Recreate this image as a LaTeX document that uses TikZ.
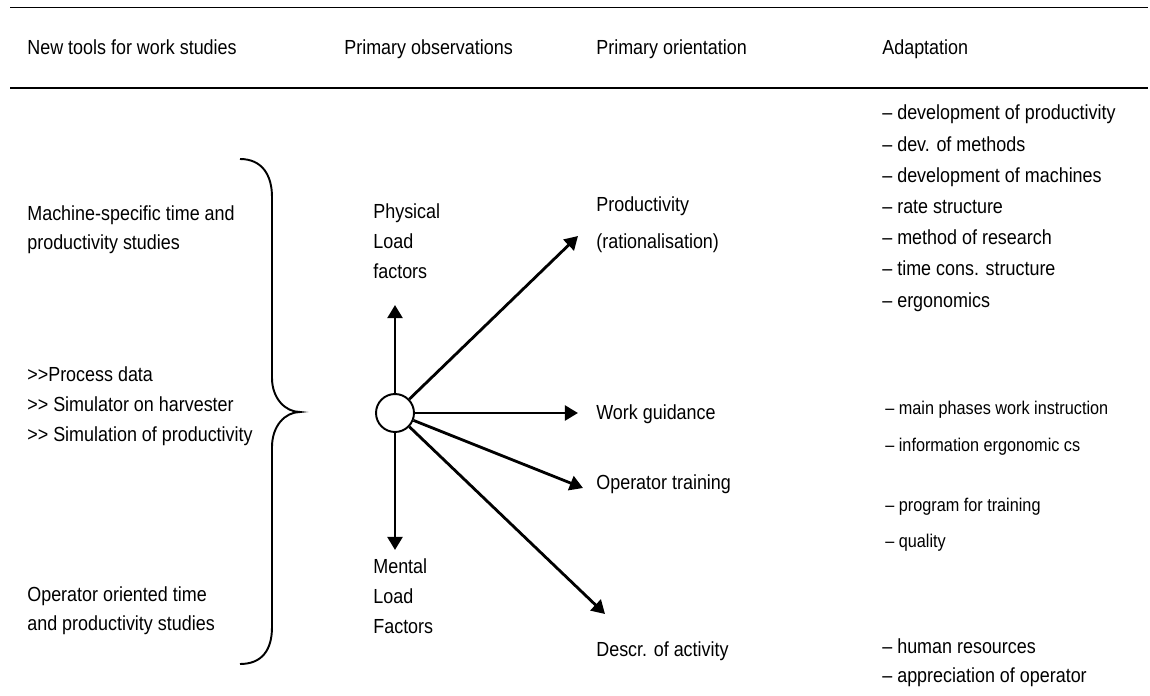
\documentclass[tikz,border=0pt]{standalone}
\usepackage{fontspec}
\setmainfont[FakeStretch=0.88]{Liberation Sans}
\usetikzlibrary{arrows.meta}
\tikzset{
  txt/.style={anchor=base west,inner sep=0pt,align=left,font=\fontsize{11.6}{17}\selectfont},
  small/.style={txt,font=\fontsize{10.5}{21}\selectfont},
  arr/.style={line width=1.6pt,-{Triangle[length=7.5pt,width=8.5pt]}},
}
% multi-line nodes: base is the last line
\newcommand{\gt}{>\kern0pt>}
\begin{document}
\begin{tikzpicture}[x=0.02cm,y=-0.02cm]
\useasboundingbox (0,0) rectangle (1150,696);
\draw[line width=0.6pt] (10,7.5) -- (1148,7.5);
\draw[line width=1.1pt] (10,88) -- (1148,88);

   \node[txt] at (27,55)  (h1) {New tools for work studies};
   \node[txt] at (344,55) (h2) {Primary observations};
   \node[txt] at (596,55) (h3) {Primary orientation};
   \node[txt] at (882,55) (h4) {Adaptation};

   \node[txt,font=\fontsize{11.6}{16.5}\selectfont] at (27,249) (machine) {Machine-specific time and\\productivity studies};
   \node[txt,font=\fontsize{11.6}{16.8}\selectfont] at (27,441) (tools) {\gt Process data\\\gt{} Simulator on harvester\\\gt{} Simulation of productivity};
   \node[txt,font=\fontsize{11.6}{16}\selectfont] at (27,630) (operator) {Operator oriented time\\and productivity studies};

   \node[txt] at (373,278) (physical) {Physical\\Load\\factors};
   \node[txt] at (373,633) (mental) {Mental\\Load\\Factors};

   \node[txt,font=\fontsize{11.6}{21}\selectfont] at (596,248) (prod) {Productivity\\(rationalisation)};
   \node[txt] at (596,419) (guide) {Work guidance};
   \node[txt] at (596,489) (train) {Operator training};
   \node[txt] at (596,656) (descr) {Descr. of activity};

   \node[txt,font=\fontsize{11.6}{17.75}\selectfont] at (882,307) (adapt) {– development of productivity\\– dev. of methods\\– development of machines\\– rate structure\\– method of research\\– time cons. structure\\– ergonomics};
   \node[small] at (885,451) (guideadapt) {– main phases work instruction\\– information ergonomic cs};
   \node[small,font=\fontsize{10.5}{20.4}\selectfont] at (885,547) (trainadapt) {– program for training\\– quality};
   \node[txt,font=\fontsize{11.6}{16}\selectfont] at (882,682) (descradapt) {– human resources\\– appreciation of operator};

    % curly brace
    \draw[line width=1.1pt] (240,159) .. controls (262,159) and (272,175) .. (272,197) -- (272,378)
      .. controls (272,398) and (285,412) .. (300,412) .. controls (285,412) and (272,426) .. (272,447)
      -- (272,627) .. controls (272,650) and (262,664) .. (240,664);

   \node[draw,circle,line width=1.1pt,minimum size=0.76cm,inner sep=0pt] at (395,413) (hub) {};
   \coordinate (up) at (395,305);
   \coordinate (down) at (395,550);
   \coordinate (toprod) at (578,236);
   \coordinate (toguide) at (578,413);
   \coordinate (totrain) at (583,488);
   \coordinate (todescr) at (605,614);

   \draw[arr] (hub) -- (up);
   \draw[arr] (hub) -- (down);
   \draw[arr] (hub) -- (toprod);
   \draw[arr] (hub) -- (toguide);
   \draw[arr] (hub) -- (totrain);
   \draw[arr] (hub) -- (todescr);

\end{tikzpicture}
\end{document}
